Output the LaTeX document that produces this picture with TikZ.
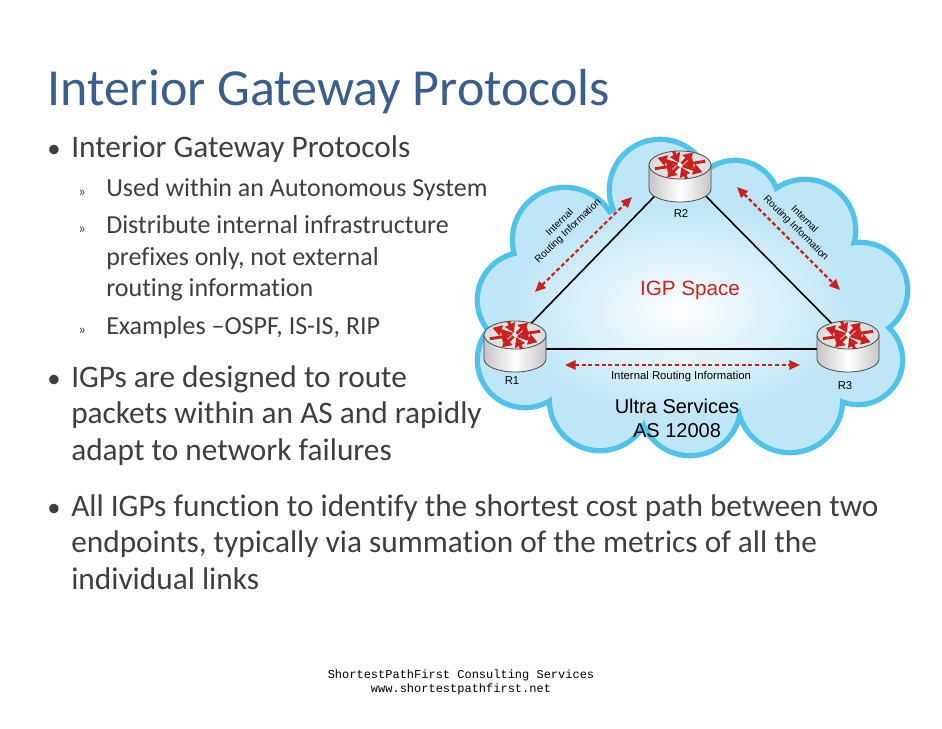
\documentclass[tikz,border=0pt]{standalone}
\usepackage{fontspec}
\setmainfont{Carlito}[Ligatures={NoCommon}]
\newfontfamily\arial{Liberation Sans}
\newfontfamily\mono{Liberation Mono}
\usetikzlibrary{arrows.meta,shapes.geometric,calc}
\definecolor{titleblue}{HTML}{3A5F8C}
\definecolor{txt}{HTML}{3F3F3F}
\definecolor{cloudline}{HTML}{4FC3EA}
\definecolor{cloudfill}{HTML}{BFE6F6}
\definecolor{rred}{HTML}{CC2020}
\tikzset{
 body/.style={anchor=base west,inner sep=0,text=txt,font=\fontsize{23.5}{26}\selectfont},
 sub/.style={anchor=base west,inner sep=0,text=txt,font=\fontsize{19.5}{22}\selectfont},
 lbl/.style={font=\arial\fontsize{8.5}{9.5}\selectfont,inner sep=0,align=center},
 info/.style={rred,densely dashed,line width=1.6pt,{Triangle[length=8pt,width=7pt]}-{Triangle[length=8pt,width=7pt]}},
 link/.style={line width=1.2pt,black}
}
\newcommand{\router}[2]{%
 \begin{scope}[shift={#1}]
  \shade[left color=gray!45,right color=gray!45,middle color=white,draw=gray!60!black,line width=0.6pt]
   (-31,-10) -- (-31,14) arc[start angle=180,end angle=0,x radius=31,y radius=13] -- (31,-10) -- cycle;
  \shade[draw=gray!60!black,line width=0.6pt,inner color=white,outer color=gray!30] (0,-10) ellipse[x radius=31,y radius=14];
  \begin{scope}[shift={(0,-10)},yscale=0.55]
  \foreach \a in {30,120,210,300}{\draw[rred,line width=2.2pt,-{Triangle[length=7pt,width=8pt]}] (\a:3) -- (\a:26);}
  \foreach \a in {75,165,255,345}{\draw[rred,line width=2.2pt,-{Triangle[length=7pt,width=8pt]}] (\a:26) -- (\a:4);}
  \end{scope}
  \node[inner sep=0,minimum width=62,minimum height=50] (#2) at (0,0) {};
 \end{scope}}
\begin{document}
\begin{tikzpicture}[x=0.75pt,y=-0.75pt]
\useasboundingbox[fill=white] (0,0) rectangle (942,728);
\node[anchor=base west,inner sep=0,text=titleblue,font=\fontsize{39}{44}\selectfont] (title) at (47,105) {Interior Gateway Protocols};
% bullets
\node[body,font=\fontsize{20}{24}\selectfont] (d1) at (47,157) {•};
\node[body] (b1) at (71,157) {Interior Gateway Protocols};
\node[sub] (s1m) at (78,196) {\fontsize{11}{12}\selectfont »};
\node[sub] (s1) at (106,196) {Used within an Autonomous System};
\node[sub] (s2m) at (78,233) {\fontsize{11}{12}\selectfont »};
\node[sub] (s2) at (106,233) {Distribute internal infrastructure};
\node[sub] (s2b) at (106,265) {prefixes only, not external};
\node[sub] (s2c) at (106,296) {routing information};
\node[sub] (s3m) at (78,334) {\fontsize{11}{12}\selectfont »};
\node[sub] (s3) at (106,334) {Examples –OSPF, IS-IS, RIP};
\node[body,font=\fontsize{20}{24}\selectfont] (d2) at (47,387) {•};
\node[body] (b2) at (71,387) {IGPs are designed to route};
\node[body] (b2b) at (71,423) {packets within an AS and rapidly};
\node[body] (b2c) at (71,460) {adapt to network failures};
\node[body,font=\fontsize{20}{24}\selectfont] (d3) at (47,516) {•};
\node[body] (b3) at (71,516) {All IGPs function to identify the shortest cost path between two};
\node[body] (b3b) at (71,552) {endpoints, typically via summation of the metrics of all the};
\node[body] (b3c) at (71,589) {individual links};
\node[inner sep=0,font=\mono\fontsize{9}{10.5}\selectfont,align=center] (foot) at (461,682) {ShortestPathFirst Consulting Services\\www.shortestpathfirst.net};
% cloud
\def\cloud{(660,190) circle[radius=48] (735,205) circle[radius=42] (805,230) circle[radius=48] (860,290) circle[radius=45] (858,360) circle[radius=42]
 (790,400) circle[radius=50] (690,405) circle[radius=48] (600,400) circle[radius=48] (525,360) circle[radius=45] (525,300) circle[radius=45]
 (565,240) circle[radius=50] (680,300) circle[radius=110] (620,300) circle[radius=80] (760,300) circle[radius=90]}
\draw[cloudline,line width=8pt] \cloud;
\fill[cloudfill] \cloud;
\shade[inner color=white,outer color=cloudfill] (680,310) ellipse[x radius=170,y radius=105];
\coordinate (p1) at (515,340); \coordinate (p2) at (680,170); \coordinate (p3) at (848,340);
\draw[link] (p1) -- (p2) -- (p3);
\draw[link] (515,349) coordinate (q1) -- (848,349) coordinate (q3);
\router{(680,175)}{R2}
\router{(515,345)}{R1}
\router{(848,345)}{R3}
\coordinate (l1) at (535,292); \coordinate (l2) at (632,197);
\coordinate (r1) at (737,187); \coordinate (r2) at (840,290);
\coordinate (h1) at (565,365); \coordinate (h2) at (800,365);
\draw[info] (l1) -- (l2);
\draw[info] (r1) -- (r2);
\draw[info] (h1) -- (h2);
\node[lbl,rotate=44,font=\arial\fontsize{7.5}{9}\selectfont] (lt) at (564,227) {Internal\\Routing Information};
\node[lbl,rotate=-45,font=\arial\fontsize{7.5}{9}\selectfont] (rt) at (800,224) {Internal\\Routing Information};
\node[lbl] (ht) at (681,377) {Internal Routing Information};
\node[lbl,font=\arial\fontsize{8.5}{9}\selectfont] (n2) at (681,214) {R2};
\node[lbl,font=\arial\fontsize{8.5}{9}\selectfont] (n1) at (512,381) {R1};
\node[lbl,font=\arial\fontsize{8.5}{9}\selectfont] (n3) at (845,386) {R3};
\node[inner sep=0,text=rred,font=\arial\fontsize{15.5}{17}\selectfont] (igp) at (690,290) {IGP Space};
\node[inner sep=0,font=\arial\fontsize{15}{18}\selectfont,align=center] (us) at (677,418) {Ultra Services\\AS 12008};
\end{tikzpicture}
\end{document}
